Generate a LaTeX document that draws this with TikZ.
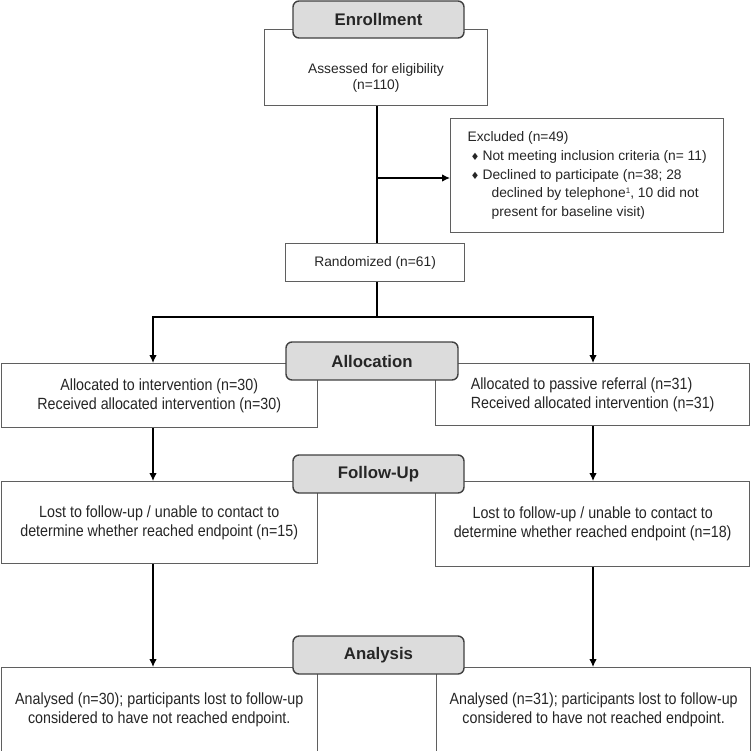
\documentclass[tikz,border=0pt]{standalone}
\usepackage{fontspec}
\setmainfont{Liberation Sans}
\newfontfamily\narrowfont[FakeStretch=0.88]{Liberation Sans}
\newfontfamily\symbfont{DejaVu Sans}
\usepackage{tikz}
\usetikzlibrary{arrows.meta,positioning}
\definecolor{hdrgray}{RGB}{220,220,220}
\definecolor{edgegray}{RGB}{95,95,95}
\newcommand{\bul}{{\symbfont\fontsize{10}{10}\selectfont ♦}}
\newcommand{\supone}{\raisebox{4.5pt}{\fontsize{8}{8}\selectfont 1}}

\begin{document}
\begin{tikzpicture}[x=1pt,y=-1pt,line width=1.2pt,
  hdr/.style={draw=black!75,fill=hdrgray,rounded corners=6pt,line width=1.4pt,
    inner sep=0pt,font=\fontsize{16.8}{18}\selectfont\bfseries,text=black!85},
  box/.style={draw=edgegray,line width=1.3pt,fill=white,inner sep=0pt,anchor=north west},
  toptxt/.style={font=\fontsize{13.8}{16}\selectfont,text=black!85},
  lowtxt/.style={font=\narrowfont\fontsize{16.2}{19}\selectfont,text=black!85},
  arr/.style={->,>={Latex[length=8pt,width=7.5pt]}}]
\useasboundingbox (0,0) rectangle (751,750);
%\draw[step=50,color=gray] (0,0) grid (751,750);
%trunk points
\coordinate (split) at (377,178);
\coordinate (fork) at (377,317);
\coordinate (forkL) at (153,317);
\coordinate (forkR) at (593,317);
%enrollment part
\node[box,minimum width=223pt,minimum height=76pt] (assess) at (264,29) {};
\node[toptxt,align=center] (assesstxt) at (376,78) {Assessed for eligibility\\(n=110)};
\node[box,minimum width=273pt,minimum height=114pt,align=left,toptxt,font=\fontsize{13.8}{18.7}\selectfont] (excl) at (450,118)
  {Excluded (n=49)\\
   \makebox[15pt][c]{\bul}Not meeting inclusion criteria (n= 11)\\
   \makebox[15pt][c]{\bul}Declined to participate (n=38; 28\\
   \hspace*{24pt}declined by telephone\supone, 10 did not\\
   \hspace*{24pt}present for baseline visit)};
\node[box,minimum width=179pt,minimum height=38pt,toptxt] (rand) at (285,243) {Randomized (n=61)};
%allocation
\node[box,minimum width=316pt,minimum height=64pt,lowtxt,align=center] (alloc1) at (0.6,363)
  {Allocated to intervention (n=30)\\Received allocated intervention (n=30)};
\node[box,minimum width=314pt,minimum height=62pt,lowtxt,align=left] (alloc2) at (435,363)
  {Allocated to passive referral (n=31)\\Received allocated intervention (n=31)};
%follow-up
\node[box,minimum width=316pt,minimum height=82pt,lowtxt,align=center] (follow1) at (0.6,481)
  {Lost to follow-up / unable to contact to\\determine whether reached endpoint (n=15)};
\node[box,minimum width=314pt,minimum height=85pt,lowtxt,align=center] (follow2) at (435,481)
  {Lost to follow-up / unable to contact to\\determine whether reached endpoint (n=18)};
%analysis
\node[box,minimum width=316pt,minimum height=84pt,lowtxt,align=center] (anal1) at (0.6,667)
  {Analysed (n=30); participants lost to follow-up\\considered to have not reached endpoint.};
\node[box,minimum width=314pt,minimum height=84pt,lowtxt,align=center] (anal2) at (436,667)
  {Analysed (n=31); participants lost to follow-up\\considered to have not reached endpoint.};
%section headers
\node[hdr,minimum width=171pt,minimum height=37pt] (enroll) at (378.5,19.5) {Enrollment};
\node[hdr,minimum width=172pt,minimum height=38pt] (allochdr) at (372,361) {Allocation};
\node[hdr,minimum width=171pt,minimum height=38pt] (followhdr) at (378.5,474) {Follow-Up};
\node[hdr,minimum width=171pt,minimum height=38pt] (analhdr) at (378.5,655) {Analysis};
%connectors
\draw (assess.south -| split) -- (rand.north -| split);
\draw[arr] (split) -- (split -| excl.west);
\draw (rand.south -| fork) -- (fork);
\draw[arr] (fork) -| (alloc1.north -| forkL);
\draw[arr] (fork) -| (alloc2.north -| forkR);
\draw[arr] (alloc1.south -| forkL) -- (follow1.north -| forkL);
\draw[arr] (alloc2.south -| forkR) -- (follow2.north -| forkR);
\draw[arr] (follow1.south -| forkL) -- (anal1.north -| forkL);
\draw[arr] (follow2.south -| forkR) -- (anal2.north -| forkR);
\end{tikzpicture}
\end{document}
